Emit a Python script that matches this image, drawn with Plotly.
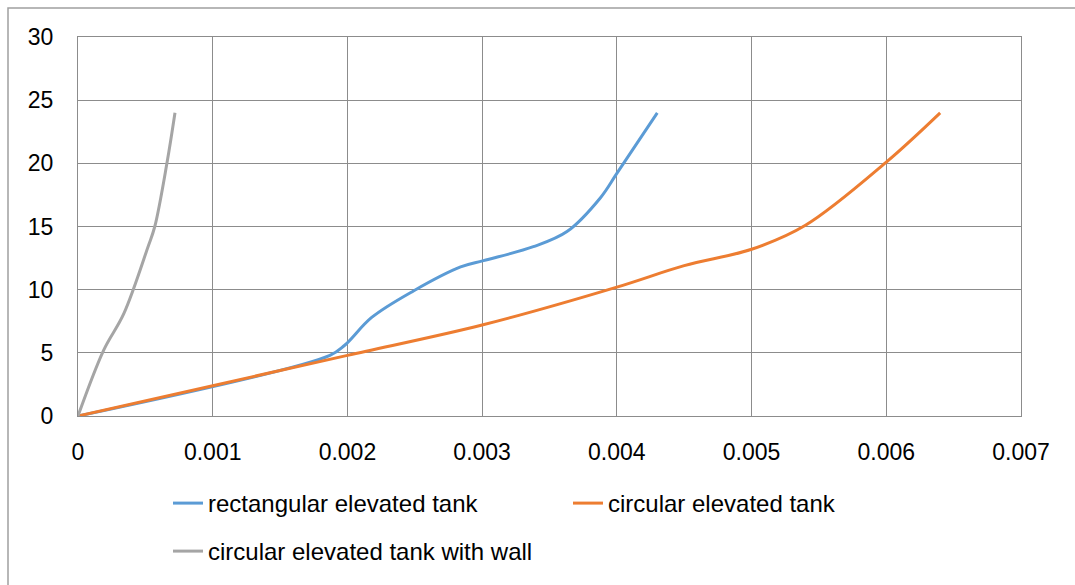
import plotly.graph_objects as go

# Data
rect_x = [0, 0.00187, 0.00198, 0.00218, 0.00249, 0.00284, 0.00301, 0.00338, 0.00363, 0.00388, 0.00400, 0.00430]
rect_y = [0, 4.8, 5.6, 7.8, 9.9, 11.8, 12.3, 13.4, 14.6, 17.3, 19.2, 24.0]

circ_x = [0, 0.001, 0.002, 0.003, 0.004, 0.0045, 0.005, 0.0054, 0.006, 0.0064]
circ_y = [0, 2.4, 4.8, 7.2, 10.2, 11.9, 13.2, 15.1, 20.1, 24.0]

wall_x = [0, 0.00019, 0.00034, 0.00052, 0.00057, 0.00066, 0.00072]
wall_y = [0, 5.2, 8.1, 13.4, 15.0, 20.0, 24.0]

names = ["rectangular elevated tank", "circular elevated tank", "circular elevated tank with wall"]
colors = ["#5B9BD5", "#ED7D31", "#A5A5A5"]

x_ticks = [0, 0.001, 0.002, 0.003, 0.004, 0.005, 0.006, 0.007]
x_tick_text = ["0", "0.001", "0.002", "0.003", "0.004", "0.005", "0.006", "0.007"]
y_ticks = [0, 5, 10, 15, 20, 25, 30]

FONT = "Liberation Sans, Arial, sans-serif"
FS = 23
LFS = 24

fig = go.Figure()
fig.add_trace(go.Scatter(x=rect_x, y=rect_y, mode="lines", name=names[0],
                         line=dict(color=colors[0], width=3, shape="spline", smoothing=1.0),
                         legend="legend"))
fig.add_trace(go.Scatter(x=circ_x, y=circ_y, mode="lines", name=names[1],
                         line=dict(color=colors[1], width=3, shape="spline", smoothing=1.0),
                         legend="legend"))
fig.add_trace(go.Scatter(x=wall_x, y=wall_y, mode="lines", name=names[2],
                         line=dict(color=colors[2], width=3, shape="spline", smoothing=1.0),
                         legend="legend2"))

L, R, T, B = 78, 54, 37, 169
W, H = 1075, 585
pw, ph = W - L - R, H - T - B

fig.update_layout(
    width=W, height=H,
    margin=dict(l=L, r=R, t=T, b=B, autoexpand=False),
    paper_bgcolor="white", plot_bgcolor="white",
    font=dict(family=FONT, size=FS, color="black"),
    xaxis=dict(range=[0, 0.007], tickvals=x_ticks, ticktext=x_tick_text,
               showgrid=True, gridcolor="#8C8C8C", gridwidth=1,
               showline=True, linecolor="#8C8C8C", mirror=True, linewidth=1,
               zeroline=False, ticks="", ticklabelstandoff=15, fixedrange=True),
    yaxis=dict(range=[0, 30], tickvals=y_ticks,
               showgrid=True, gridcolor="#8C8C8C", gridwidth=1,
               showline=True, linecolor="#8C8C8C", mirror=True, linewidth=1,
               zeroline=False, ticks="", ticklabelstandoff=19, fixedrange=True),
    legend=dict(orientation="h", x=(168 - L) / pw, y=(T + ph - 481) / ph,
                xanchor="left", yanchor="top", entrywidth=355, entrywidthmode="pixels",
                font=dict(family=FONT, size=LFS), bgcolor="rgba(0,0,0,0)"),
    legend2=dict(orientation="h", x=(168 - L) / pw, y=(T + ph - 529) / ph,
                 xanchor="left", yanchor="top",
                 font=dict(family=FONT, size=LFS), bgcolor="rgba(0,0,0,0)"),
    shapes=[dict(type="rect", xref="paper", yref="paper",
                 x0=(8 - L) / pw, x1=(W + 20 - L) / pw,
                 y0=(T + ph - (H + 20)) / ph, y1=(T + ph - 8) / ph,
                 line=dict(color="#A0A0A0", width=1.5), fillcolor="rgba(0,0,0,0)", layer="below")],
)

fig.write_html("out.html")
